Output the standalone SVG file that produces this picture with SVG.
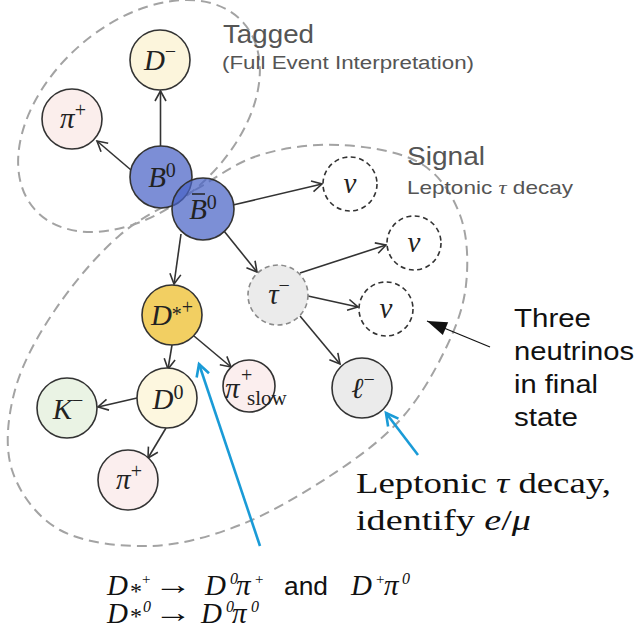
<svg xmlns="http://www.w3.org/2000/svg" width="641" height="630" viewBox="0 0 641 630">
<style>
.loop{fill:none;stroke:#a3a3a3;stroke-width:2;stroke-dasharray:10 6}
.node{stroke:#333;stroke-width:1.6}
.nu{fill:#fff;stroke:#333;stroke-width:1.6;stroke-dasharray:5 3.5}
.edge{stroke:#333;stroke-width:1.6;fill:none;marker-end:url(#ah)}
.blue{stroke:#1a9bd7;stroke-width:2.6;fill:none;marker-end:url(#bh)}
.m{font-family:"Liberation Serif","DejaVu Serif",serif;font-style:italic;font-size:29px;fill:#222}
.sup{font-style:normal;font-size:20px}
.hd{font-family:"Liberation Sans",Arial,sans-serif;fill:#555}
.note{font-family:"Liberation Sans",Arial,sans-serif;fill:#111;font-size:26px}
.tex{font-family:"Liberation Serif","DejaVu Serif",serif;fill:#111}
.it{font-style:italic}
</style>
<defs>
<marker id="ah" markerUnits="userSpaceOnUse" markerWidth="14" markerHeight="14" refX="11" refY="6" orient="auto" overflow="visible">
<path d="M1,0.5 L11,6 L1,11.5" fill="none" stroke="#333" stroke-width="1.6"/>
</marker>
<marker id="bh" markerUnits="userSpaceOnUse" markerWidth="16" markerHeight="16" refX="13" refY="7" orient="auto" overflow="visible">
<path d="M1,0.5 L13,7 L1,13.5" fill="none" stroke="#1a9bd7" stroke-width="2.6"/>
</marker>
<marker id="fh" markerUnits="userSpaceOnUse" markerWidth="22" markerHeight="16" refX="20" refY="7" orient="auto" overflow="visible">
<path d="M0,0 L20,7 L0,14 z" fill="#111"/>
</marker>
</defs>

<g id="loops">
<ellipse class="loop" cx="139" cy="116" rx="140" ry="92" transform="rotate(-42 139 116)"/>
<path class="loop" d="M195,190 C218.3,176.7 235.8,162.5 260,155 C284.2,147.5 313.3,143.7 340,145 C366.7,146.3 400,151.3 420,163 C440,174.7 452.3,194.7 460,215 C467.7,235.3 468.5,262.5 466,285 C463.5,307.5 456,327.5 445,350 C434,372.5 419.2,399 400,420 C380.8,441 356.7,458.5 330,476 C303.3,493.5 270,513.3 240,525 C210,536.7 180,545.2 150,546 C120,546.8 83,542.7 60,530 C37,517.3 19.5,493.3 12,470 C4.5,446.7 7.8,416.7 15,390 C22.2,363.3 37.5,335.8 55,310 C72.5,284.2 96.7,255 120,235 C143.3,215 171.7,203.3 195,190 Z"/>
</g>

<g id="connectors">
<line class="edge" x1="160.5" y1="146" x2="160.5" y2="91"/>
<line class="edge" x1="131" y1="170" x2="97" y2="141"/>
<line class="edge" x1="233" y1="205" x2="322" y2="184"/>
<line class="edge" x1="181" y1="234" x2="174" y2="284"/>
<line class="edge" x1="224" y1="231" x2="257" y2="272"/>
<line class="edge" x1="300" y1="273" x2="386" y2="245"/>
<line class="edge" x1="308" y1="296" x2="358" y2="307"/>
<line class="edge" x1="300" y1="316" x2="340" y2="364"/>
<line class="edge" x1="172" y1="345" x2="168" y2="369"/>
<line class="edge" x1="194" y1="336" x2="231" y2="367"/>
<line class="edge" x1="137" y1="398" x2="98" y2="407"/>
<line class="edge" x1="166" y1="428" x2="148" y2="458"/>
<line class="blue" x1="260" y1="546" x2="199" y2="364"/>
<line class="blue" x1="418" y1="455" x2="386" y2="413"/>
<line x1="490" y1="347" x2="427" y2="321" stroke="#111" stroke-width="1.2" marker-end="url(#fh)"/>
</g>

<g id="n-Dminus">
<circle class="node" cx="160" cy="60" r="30" fill="#fcf5dc"/>
<text class="m" x="160" y="70" text-anchor="middle">D<tspan class="sup" dy="-12">−</tspan></text>
</g>
<g id="n-piplus-tag">
<circle class="node" cx="72" cy="119" r="30" fill="#fbeeec"/>
<text class="m" x="73" y="128" text-anchor="middle">π<tspan class="sup" dy="-11">+</tspan></text>
</g>
<g id="n-B0">
<circle class="node" cx="161" cy="177" r="31" fill="#7c8ed6"/>
<text class="m" x="162" y="187" text-anchor="middle">B<tspan class="sup" dy="-10">0</tspan></text>
</g>
<g id="n-B0bar">
<circle class="node" cx="203" cy="209" r="31" fill="#4a64c6" fill-opacity="0.72"/>
<text class="m" x="203" y="219" text-anchor="middle">B<tspan class="sup" dy="-10">0</tspan></text>
<line x1="192" y1="194" x2="205" y2="194" stroke="#222" stroke-width="1.5"/>
</g>
<g id="n-nu1">
<circle class="nu" cx="350" cy="184" r="27"/>
<text class="m" x="350" y="193" text-anchor="middle">ν</text>
</g>
<g id="n-nu2">
<circle class="nu" cx="414" cy="243" r="27"/>
<text class="m" x="414" y="252" text-anchor="middle">ν</text>
</g>
<g id="n-nu3">
<circle class="nu" cx="386" cy="309" r="27"/>
<text class="m" x="386" y="318" text-anchor="middle">ν</text>
</g>
<g id="n-tau">
<circle cx="278" cy="295" r="30" fill="#ebebeb" stroke="#8a8a8a" stroke-width="1.6" stroke-dasharray="5 3.5"/>
<text class="m" x="279" y="304" text-anchor="middle">τ<tspan class="sup" dy="-12">−</tspan></text>
</g>
<g id="n-Dstar">
<circle class="node" cx="172" cy="315" r="30" fill="#f2cf62"/>
<text class="m" x="172" y="325" text-anchor="middle">D<tspan class="sup" dy="-4">*</tspan><tspan class="sup" dy="-7">+</tspan></text>
</g>
<g id="n-pislow">
<circle class="node" cx="249" cy="386" r="26" fill="#fbeeee"/>
<text class="m"><tspan x="225" y="398">π</tspan><tspan class="sup" x="241" y="382">+</tspan><tspan x="247" y="405" style="font-style:normal;font-size:21px">slow</tspan></text>
</g>
<g id="n-lepton">
<circle class="node" cx="362" cy="388" r="30" fill="#ebebeb"/>
<text class="m" x="363" y="398" text-anchor="middle">ℓ<tspan class="sup" dy="-12">−</tspan></text>
</g>
<g id="n-D0">
<circle class="node" cx="167" cy="398" r="30" fill="#fdf7df"/>
<text class="m" x="168" y="409" text-anchor="middle">D<tspan class="sup" dy="-10">0</tspan></text>
</g>
<g id="n-Kminus">
<circle class="node" cx="67" cy="408" r="30" fill="#eaf3e4"/>
<text class="m" x="68" y="419" text-anchor="middle">K<tspan class="sup" dy="-12">−</tspan></text>
</g>
<g id="n-piplus-sig">
<circle class="node" cx="128" cy="480" r="30" fill="#fbeeee"/>
<text class="m" x="129" y="489" text-anchor="middle">π<tspan class="sup" dy="-11">+</tspan></text>
</g>

<g id="labels">
<text class="hd" x="223" y="43" font-size="25" textLength="91" lengthAdjust="spacingAndGlyphs">Tagged</text>
<text class="hd" x="222" y="69" font-size="18" textLength="252" lengthAdjust="spacingAndGlyphs">(Full Event Interpretation)</text>
<text class="hd" x="407" y="165" font-size="26" textLength="78" lengthAdjust="spacingAndGlyphs">Signal</text>
<text class="hd" x="407" y="194" font-size="19" textLength="166" lengthAdjust="spacingAndGlyphs">Leptonic <tspan font-family="Liberation Serif, serif" font-style="italic">τ</tspan> decay</text>

<text class="note" x="514" y="327" textLength="77" lengthAdjust="spacingAndGlyphs">Three</text>
<text class="note" x="514" y="360" textLength="120" lengthAdjust="spacingAndGlyphs">neutrinos</text>
<text class="note" x="514" y="393" textLength="84" lengthAdjust="spacingAndGlyphs">in final</text>
<text class="note" x="514" y="426" textLength="64" lengthAdjust="spacingAndGlyphs">state</text>

<text class="tex" x="356" y="493" font-size="30" textLength="255" lengthAdjust="spacingAndGlyphs">Leptonic <tspan class="it">τ</tspan> decay,</text>
<text class="tex" x="356" y="530" font-size="30" textLength="175" lengthAdjust="spacingAndGlyphs">identify <tspan class="it">e</tspan>/<tspan class="it">μ</tspan></text>

<text class="tex it" font-size="29"><tspan x="107" y="595">D</tspan><tspan x="130" y="599" font-size="24" font-style="normal">*</tspan><tspan x="142" y="584" font-size="15" font-style="normal">+</tspan><tspan x="205" y="595">D</tspan><tspan x="230" y="584" font-size="16">0</tspan><tspan x="236" y="595">π</tspan><tspan x="255" y="584" font-size="15" font-style="normal">+</tspan><tspan x="351" y="595">D</tspan><tspan x="376" y="584" font-size="15" font-style="normal">+</tspan><tspan x="384" y="595">π</tspan><tspan x="402" y="584" font-size="16">0</tspan></text>
<text class="tex" x="154" y="594" font-size="29" textLength="38" lengthAdjust="spacingAndGlyphs">→</text>
<text class="note" x="284" y="595" font-size="25" textLength="44" lengthAdjust="spacingAndGlyphs">and</text>
<text class="tex it" font-size="29"><tspan x="107" y="623">D</tspan><tspan x="130" y="624" font-size="24" font-style="normal">*</tspan><tspan x="143" y="612" font-size="16">0</tspan><tspan x="201" y="623">D</tspan><tspan x="226" y="612" font-size="16">0</tspan><tspan x="232" y="623">π</tspan><tspan x="251" y="612" font-size="16">0</tspan></text>
<text class="tex" x="154" y="622" font-size="29" textLength="38" lengthAdjust="spacingAndGlyphs">→</text>
</g>
</svg>
